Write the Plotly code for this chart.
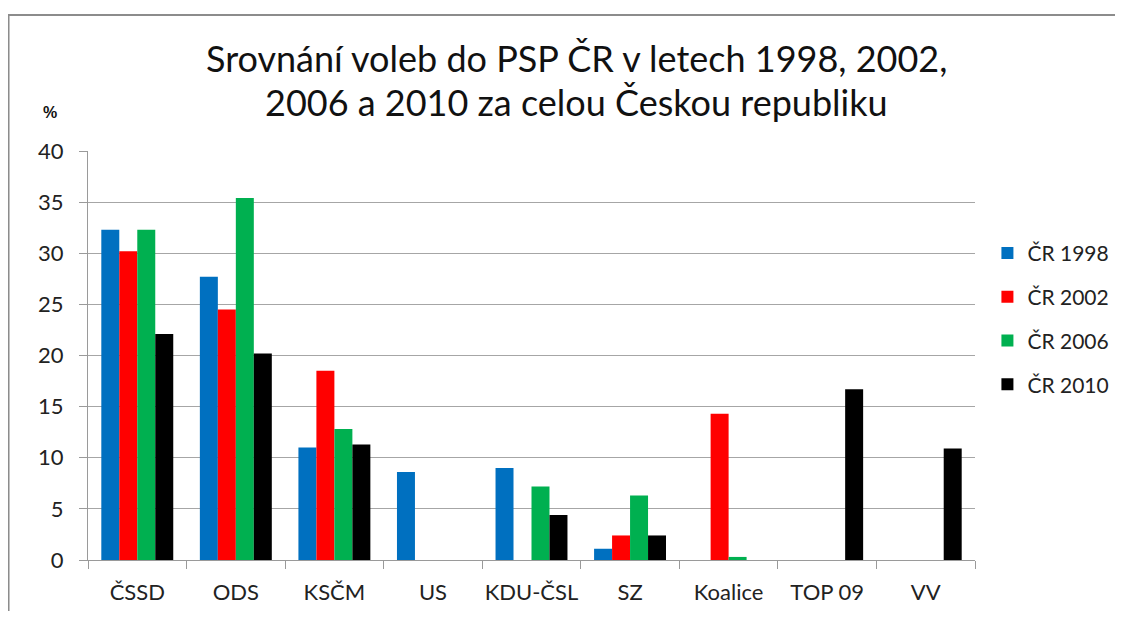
import plotly.graph_objects as go

# Party categories and vote shares (%) per election year
parties = ['ČSSD', 'ODS', 'KSČM', 'US', 'KDU-ČSL', 'SZ', 'Koalice', 'TOP 09', 'VV']
cr_1998 = [32.3, 27.7, 11.0, 8.6, 9.0, 1.1, None, None, None]
cr_2002 = [30.2, 24.5, 18.5, None, None, 2.4, 14.3, None, None]
cr_2006 = [32.3, 35.4, 12.8, None, 7.2, 6.3, 0.3, None, None]
cr_2010 = [22.1, 20.2, 11.3, None, 4.4, 2.4, None, 16.7, 10.9]

series = [
    ('ČR 1998', cr_1998, '#0070C0'),
    ('ČR 2002', cr_2002, '#FF0000'),
    ('ČR 2006', cr_2006, '#00B050'),
    ('ČR 2010', cr_2010, '#000000'),
]

font_main = 'Lato, Open Sans, sans-serif'

fig = go.Figure()
for i, (name, vals, color) in enumerate(series):
    fig.add_trace(go.Bar(
        x=parties, y=vals, name=name,
        marker=dict(color=color, line=dict(width=0)),
        legendgroup=str(i),
    ))

# page body adds an 8px margin, so the figure is a bit smaller than the window
fig.update_layout(
    width=1107, height=603,
    paper_bgcolor='white', plot_bgcolor='white',
    margin=dict(l=80, r=140, t=143, b=51, autoexpand=False),
    barmode='group', bargap=0.27, bargroupgap=0,
    font=dict(family=font_main, size=22, color='#222222'),
    legend=dict(
        x=1.014, xanchor='left', y=0.80, yanchor='top',
        font=dict(size=21, color='#222222'),
        tracegroupgap=13.5, itemwidth=30,
        bgcolor='rgba(0,0,0,0)',
    ),
    showlegend=True,
)

fig.update_xaxes(
    type='category', showgrid=False,
    showline=True, linecolor='#9a9a9a', linewidth=1,
    ticks='outside', tickson='boundaries', ticklen=8, tickcolor='#9a9a9a',
    ticklabelstandoff=13, tickangle=0,
    tickfont=dict(size=22, color='#222222'),
)
fig.update_yaxes(
    range=[0, 40], dtick=5,
    showgrid=True, gridcolor='#a6a6a6', gridwidth=1,
    showline=True, linecolor='#9a9a9a', linewidth=1,
    ticks='outside', ticklen=8, tickcolor='#9a9a9a',
    ticklabelstandoff=11,
    tickfont=dict(size=22, color='#222222'),
    zeroline=False,
)

# two-line title
title_lines = ['Srovnání voleb do PSP ČR v letech 1998, 2002,',
               '2006 a 2010 za celou Českou republiku']
for line, ypos in zip(title_lines, [1.227, 1.12]):
    fig.add_annotation(
        text=line, xref='paper', yref='paper',
        x=0.551, y=ypos, xanchor='center', yanchor='middle', showarrow=False,
        font=dict(family=font_main, size=36, color='#111111'),
    )

# "%" axis label
fig.add_annotation(
    text='<b>%</b>', xref='paper', yref='paper',
    x=-0.043, y=1.095, xanchor='center', yanchor='middle', showarrow=False,
    font=dict(family='Liberation Sans, sans-serif', size=16, color='#111111'),
)

# outer chart frame
fig.add_shape(
    type='rect', xref='paper', yref='paper',
    x0=-0.0896, y0=-0.3, x1=1.3, y1=1.3325,
    line=dict(color='#8c8c8c', width=2), fillcolor='rgba(0,0,0,0)',
    layer='below',
)

fig.write_html('out.html')
